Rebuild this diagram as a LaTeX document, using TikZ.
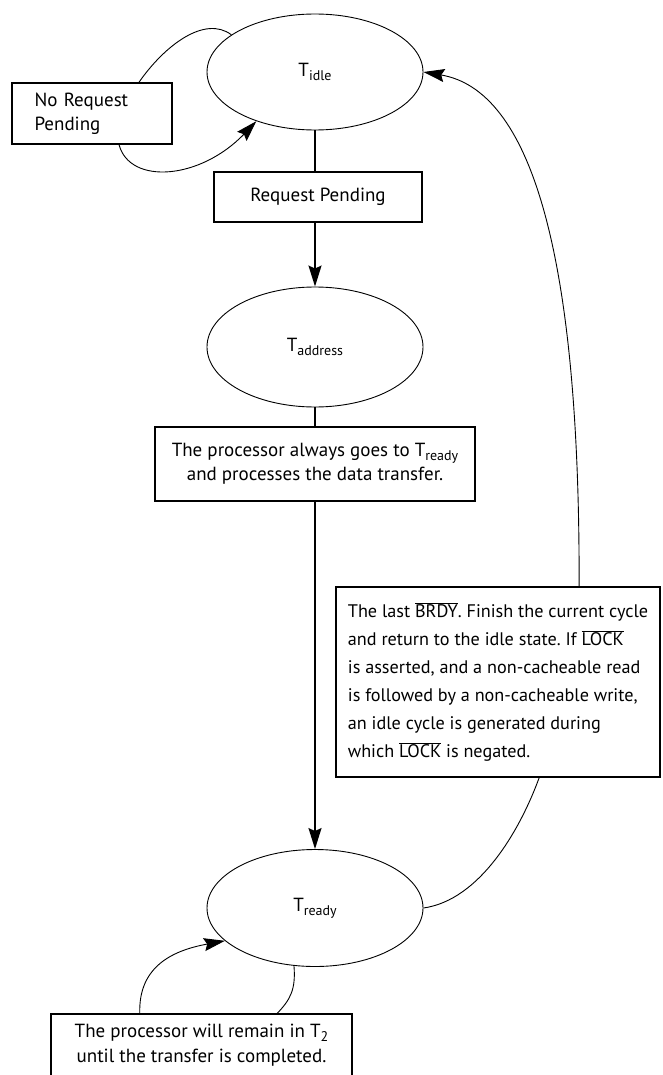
\documentclass[tikz,border=0pt]{standalone}
\usepackage{fontspec}
\setmainfont{PT Sans}
\usepackage{graphicx}
\usetikzlibrary{shapes.geometric,arrows.meta}
\newcommand{\lowsub}[1]{\raisebox{-0.4ex}{\fontsize{14}{14}\selectfont #1}}
\newcommand{\ovbar}[1]{$\overline{\hbox{#1}}$}
\frenchspacing
\begin{document}
\begin{tikzpicture}[x=1pt,y=-1pt,
  state/.style={ellipse, draw, line width=0.9pt, minimum width=216pt, inner sep=0pt, font=\fontsize{19}{21}\selectfont},
  note/.style={draw, line width=1.8pt, inner sep=0pt, font=\fontsize{19}{24}\selectfont},
  link/.style={line width=1.6pt},
  curve/.style={line width=0.9pt},
  arr/.style={-{Stealth[length=21pt,width=13pt,inset=3pt]}}]
\useasboundingbox (0,0) rectangle (662,1075);
% states
\node[state, minimum height=116pt] (idle) at (315,72) {T\lowsub{idle}};
\node[state, minimum height=120pt] (addr) at (315,347) {T\lowsub{address}};
\node[state, minimum height=117pt] (ready) at (315,908) {T\lowsub{ready}};
% boxes
\node[note, text width=115pt, inner xsep=22.5pt, minimum height=61pt, align=left] (nreq) at (92,113.5) {No Request\\Pending};
\node[note, minimum width=208pt, minimum height=50pt] (rp) at (318,197) {Request Pending};
\node[note, minimum width=320pt, minimum height=74pt, align=center] (box2) at (315,464)
  {The processor always goes to T\lowsub{ready}\\ and processes the data transfer.};
\node[note, minimum width=324pt, minimum height=190pt, align=left, font=\fontsize{18.2}{28}\selectfont] (rbox) at (498,682)
  {The last \ovbar{BRDY}. Finish the current cycle\\
   and return to the idle state. If \ovbar{LOCK}\\
   is asserted, and a non-cacheable read\\
   is followed by a non-cacheable write,\\
   an idle cycle is generated during\\
   which \ovbar{LOCK} is negated.};
\node[draw=none, font=\fontsize{19}{25}\selectfont, minimum width=301pt, minimum height=62pt, inner sep=0pt, align=center] (bbox) at (201.5,1045)
  {The processor will remain in T\lowsub{2}\\ until the transfer is completed.};
\draw[line width=1.8pt] (bbox.south west) -- (bbox.north west) -- (bbox.north east) -- (bbox.south east);
% straight connectors
\draw[link] (idle.south) -- (idle.south |- rp.north);
\draw[link, arr] (idle.south |- rp.south) -- (addr.north);
\draw[link] (addr.south) -- (box2.north);
\draw[link, arr] (box2.south) -- (ready.north);
% idle self loop
\coordinate (nq1) at ([xshift=128pt]nreq.north west);
\coordinate (nq2) at ([xshift=108pt]nreq.south west);
\draw[curve] (idle.156) .. controls (205,15) and (165,45) .. (nq1);
\draw[curve, arr] (nq2) .. controls (130,185) and (200,180) .. (idle.220);
% return path
\coordinate (rb1) at ([xshift=204pt]rbox.south west);
\coordinate (rb2) at ([xshift=244pt]rbox.north west);
\draw[curve] (ready.east) .. controls (480,900) and (520,830) .. (rb1);
\draw[curve, arr] (rb2) .. controls (580,250) and (530,90) .. (idle.east);
% ready self loop
\coordinate (bb1) at ([xshift=89pt]bbox.north west);
\coordinate (bb2) at ([xshift=226pt]bbox.north west);
\draw[curve, arr] (bb1) .. controls (138,965) and (175,950) .. (ready.200);
\draw[curve] (ready.250) .. controls (296,990) and (290,1000) .. (bb2);
\end{tikzpicture}
\end{document}
